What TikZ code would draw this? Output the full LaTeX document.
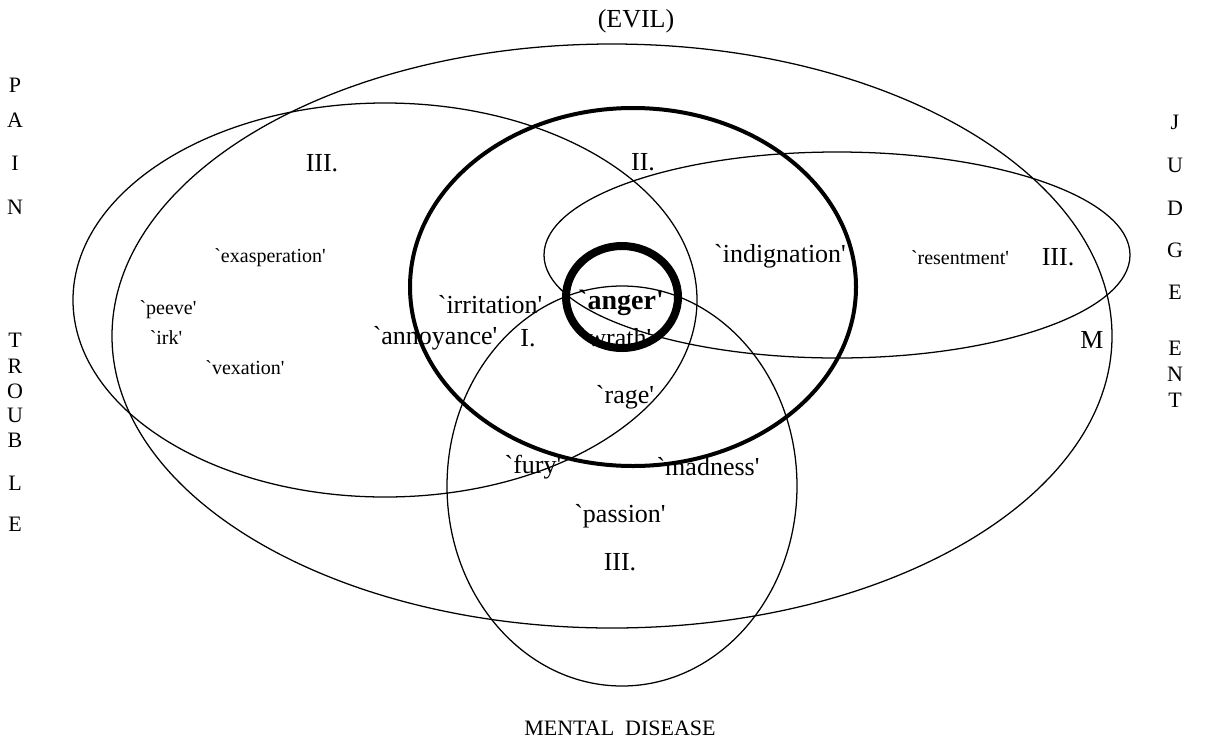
\documentclass[tikz,border=0pt]{standalone}
\usepackage{fontspec}
\setmainfont{Liberation Serif}
\newfontfamily\plainserif{Liberation Serif}
\begin{document}
\begin{tikzpicture}[x=0.75pt,y=-0.75pt,
  thinl/.style={line width=0.95pt},
  midl/.style={line width=3pt},
  boldl/.style={line width=6pt},
  big/.style={font=\plainserif\fontsize{19.5}{22}\selectfont, inner sep=0pt},
  small/.style={font=\plainserif\fontsize{15}{18}\selectfont, inner sep=0pt},
  side/.style={font=\plainserif\fontsize{16.5}{18}\selectfont, inner sep=0pt},
  boldtxt/.style={font=\plainserif\fontsize{21}{24}\selectfont\bfseries, inner sep=0pt}]
\useasboundingbox (0,0) rectangle (1205,743);
% regions
\draw[thinl] (612,336) ellipse [x radius=500, y radius=292];
\draw[thinl] (385,300) ellipse [x radius=312, y radius=197];
\draw[thinl] (837,255) ellipse [x radius=293, y radius=103];
\draw[thinl] (622,486) ellipse [x radius=175, y radius=200];
\draw[midl] (633,287) ellipse [x radius=223, y radius=179];
\draw[boldl] (622,297) ellipse [x radius=56, y radius=51];
% labels
\node[big] (evil) at (636,21) {(EVIL)};
\node[big] (iiiA) at (322,163) {III.};
\node[big] (ii) at (643,162) {II.};
\node[small] (exas) at (270,258) {`exasperation'};
\node[small] (peeve) at (168,310) {`peeve'};
\node[small] (irk) at (166,338) {`irk'};
\node[small] (vex) at (245,368) {`vexation'};
\node[big] (irrit) at (490,305) {`irritation'};
\node[boldtxt] (anger) at (621,303) {`anger'};
\node[big] (wrath) at (615,338) {`wrath'};
\node[big] (annoy) at (435,338) {`annoyance'};
\node[big] (iA) at (528,338) {I.};
\node[big] (indig) at (780,256) {`indignation'};
\node[small] (resent) at (960,258) {`resentment'};
\node[big] (iiiB) at (1058,257) {III.};
\node[big] (m) at (1092,340) {M};
\node[big] (rage) at (625,397) {`rage'};
\node[big] (fury) at (533,467) {`fury'};
\node[big] (mad) at (708,467) {`madness'};
\node[big] (pass) at (620,516) {`passion'};
\node[big] (iiiC) at (620,562) {III.};
\node[side] (mental) at (620,728) {MENTAL\ \ DISEASE};
% left side
\foreach \l/\y [count=\i] in {P/85,A/120,I/163,N/207,T/340,R/366,O/391,U/415,B/440,L/483,E/524}
  \node[side] (left\i) at (15,\y) {\l};
% right side
\foreach \l/\y [count=\i] in {J/122,U/165,D/208,G/250,E/292,E/348,N/374,T/400}
  \node[side] (right\i) at (1175,\y) {\l};
\end{tikzpicture}
\end{document}
